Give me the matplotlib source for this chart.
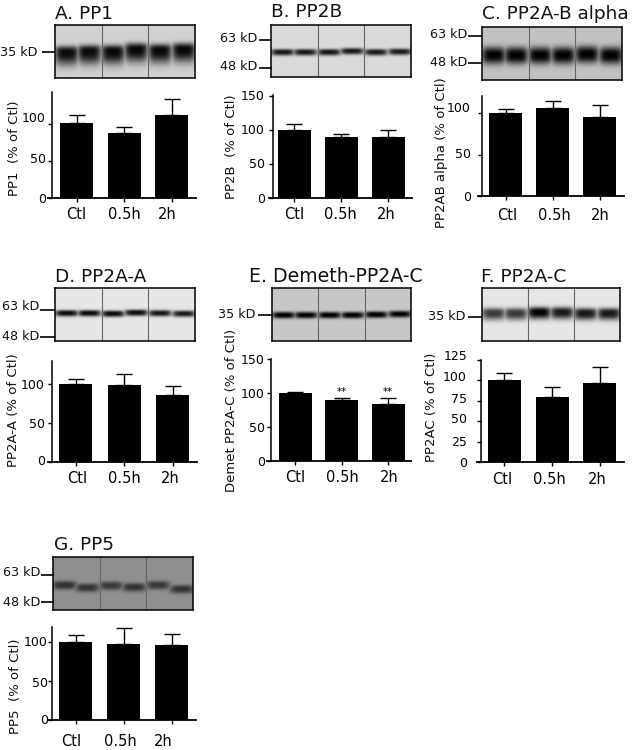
import numpy as np
import matplotlib
matplotlib.use('Agg')
import matplotlib.pyplot as plt
from matplotlib.transforms import ScaledTranslation

plt.rcParams['font.family'] = ['DejaVu Sans']

W, H = 634, 750
PX = 0.72  # points in one pixel at dpi 100

# values
groups = ['Ctl', '0.5h', '2h']

pp1_mean = [101, 88, 112]
pp1_top = [112, 96, 134]
pp2b_mean = [100, 89, 89]
pp2b_top = [109, 93, 100]
pp2ab_mean = [100, 106, 95]
pp2ab_top = [105, 115, 110]
pp2aa_mean = [100, 99, 86]
pp2aa_top = [106, 113, 98]
demeth_mean = [100, 90, 84]
demeth_top = [102, 93, 93]
pp2ac_mean = [100, 80, 97]
pp2ac_top = [109, 92, 116]
pp5_mean = [100, 98, 96]
pp5_top = [109, 118, 110]

# band height of each of the six lanes in the blots, px from blot top
pp1_lanes = [27, 26, 26, 24, 25, 24]
pp2b_lanes = [27, 27, 27, 26, 27, 26.5]
pp2ab_lanes = [28, 28, 28, 28, 27, 28]
pp2aa_lanes = [25, 25, 25.5, 24.5, 25, 25.5]
demeth_lanes = [27, 27, 27, 27, 26.5, 26]
pp2ac_lanes = [25, 25, 24, 24, 25, 25]
pp5_lanes = [28, 30.5, 28.5, 30, 28, 32]

pp1_dark = [.95, .95, .97, .97, .97, .97]
pp2b_dark = [.9, .9, .9, .88, .88, .88]
pp2ab_dark = [1, 1, 1, 1, 1, 1]
pp2aa_dark = [.95, .95, .95, .95, .9, .88]
demeth_dark = [1, 1, 1, 1, 1, 1]
pp2ac_dark = [.75, .75, 1, .9, .9, .9]
pp5_dark = [.65, .65, .6, .65, .6, .65]

panels = [
    dict(title='A. PP1', tx=55, ty=19, mean=pp1_mean, top=pp1_top, lanes=pp1_lanes, dark=pp1_dark,
         blot=(55, 25, 195, 78), bg=.82, sig=6, tail=13,
         sx=52, ax_r=196, y0=198, ytop=92, scale=.74, c0=76.5, step=47.5,
         yt=[0, 50, 100], yt_dy=[0, 3, 7], yt_right=46, xpad=5, xdx=[0, 0, -4],
         ylabel='PP1  (% of Ctl)', lx=15, ly=148,
         kd=[('35 kD', 38, 52, 42, 55, 52)]),
    dict(title='B. PP2B', tx=271, ty=17, mean=pp2b_mean, top=pp2b_top, lanes=pp2b_lanes, dark=pp2b_dark,
         blot=(271, 25, 411, 77), bg=.85, sig=3, tail=3.5,
         sx=273, ax_r=412, y0=198, ytop=95, scale=.683, c0=294, step=47,
         yt=[0, 50, 100, 150], yt_dy=[0, 1, 1, 1], yt_right=265, xpad=5, xdx=[0, -1, -2],
         ylabel='PP2B  (% of Ctl)', lx=232, ly=147,
         kd=[('63 kD', 257, 38, 259, 272, 40), ('48 kD', 257, 67, 259, 272, 68)]),
    dict(title='C. PP2A-B alpha', tx=482, ty=19, mean=pp2ab_mean, top=pp2ab_top, lanes=pp2ab_lanes, dark=pp2ab_dark,
         blot=(482, 27, 622, 80), bg=.76, sig=8, tail=9,
         sx=482, ax_r=624, y0=196, ytop=96, scale=.83, c0=505.5, step=47,
         yt=[0, 50, 100], yt_dy=[0, 1, 6], yt_right=471, xpad=8, xdx=[2, 2, 1],
         ylabel='PP2AB alpha (% of Ctl)', lx=441, ly=153,
         kd=[('63 kD', 467, 35, 468, 482, 36), ('48 kD', 467, 63, 468, 482, 63)]),
    dict(title='D. PP2A-A', tx=55, ty=282, mean=pp2aa_mean, top=pp2aa_top, lanes=pp2aa_lanes, dark=pp2aa_dark,
         blot=(55, 288, 195, 341), bg=.9, sig=3, tail=3.5,
         sx=52, ax_r=197, y0=462, ytop=361, scale=.78, c0=75.5, step=48.5,
         yt=[0, 50, 100], yt_dy=[2, 0, 0], yt_right=45, xpad=5, xdx=[2, 0, -2],
         ylabel='PP2A-A (% of Ctl)', lx=14, ly=410,
         kd=[('63 kD', 39, 307, 40, 55, 310), ('48 kD', 39, 336, 40, 55, 337)]),
    dict(title='E. Demeth-PP2A-C', tx=249, ty=282, mean=demeth_mean, top=demeth_top, lanes=demeth_lanes, dark=demeth_dark,
         blot=(272, 288, 411, 341), bg=.78, sig=3.2, tail=3.5,
         sx=271, ax_r=411, y0=461, ytop=359, scale=.68, c0=295, step=46.5,
         yt=[0, 50, 100, 150], yt_dy=[0, 0, 0, 0], yt_right=265, xpad=5, xdx=[0, 1, 1],
         ylabel='Demet PP2A-C (% of Ctl)', lx=232, ly=410,
         kd=[('35 kD', 255, 315, 258, 272, 315)], stars=True),
    dict(title='F. PP2A-C', tx=481, ty=282, mean=pp2ac_mean, top=pp2ac_top, lanes=pp2ac_lanes, dark=pp2ac_dark,
         blot=(482, 288, 620, 341), bg=.9, sig=5, tail=7,
         sx=481, ax_r=624, y0=462, ytop=360, scale=.82, c0=504.5, step=47.5,
         yt=[0, 25, 50, 75, 100, 125], yt_dy=[0, 1, 3, 3, 4, 5], yt_right=467, xpad=6, xdx=[-2, -3, -2],
         ylabel='PP2AC (% of Ctl)', lx=432, ly=407,
         kd=[('35 kD', 465, 317, 468, 482, 317)]),
    dict(title='G. PP5', tx=54, ty=550, mean=pp5_mean, top=pp5_top, lanes=pp5_lanes, dark=pp5_dark,
         blot=(53, 557, 193, 610), bg=.56, sig=4, tail=4.5,
         sx=52, ax_r=196, y0=720, ytop=627, scale=.78, c0=75.5, step=48,
         yt=[0, 50, 100], yt_dy=[1, -1, 1], yt_right=48, xpad=10, xdx=[-4, -3, -8],
         ylabel='PP5  (% of Ctl)', lx=16, ly=686,
         kd=[('63 kD', 40, 573, 41, 54, 575), ('48 kD', 40, 602, 41, 54, 602)]),
]

lane_x = [.085, .245, .415, .58, .75, .92]


def px_axes(fig, x0, y0, x1, y1, **kw):
    # axes from pixel box, y counted from the top
    return fig.add_axes([x0 / W, 1 - y1 / H, (x1 - x0) / W, (y1 - y0) / H], **kw)


def draw_blot(fig, p):
    x0, y0, x1, y1 = p['blot']
    w, h = x1 - x0, y1 - y0
    xx, yy = np.meshgrid(np.arange(w) + .5, np.arange(h) + .5)
    absorb = np.zeros((h, w))
    for f, yc, d in zip(lane_x, p['lanes'], p['dark']):
        xprof = np.exp(-np.abs((xx - f * w) / 12.0) ** 4)
        dy = yy - yc
        sig = np.where(dy < 0, p['sig'], p['tail'])
        absorb = np.maximum(absorb, d * xprof * np.exp(-np.abs(dy / sig) ** 2.5))
    ax = px_axes(fig, x0, y0, x1, y1)
    ax.imshow(p['bg'] * (1 - absorb), cmap='gray', vmin=0, vmax=1, aspect='auto', interpolation='bilinear')
    ax.set_xticks([])
    ax.set_yticks([])
    for f in (1 / 3, 2 / 3):
        ax.axvline(f * w - .5, color='#666666', lw=.8)
    for s in ax.spines.values():
        s.set_linewidth(1.1)


def draw_bars(fig, p):
    ax = px_axes(fig, p['sx'], p['ytop'], p['ax_r'], p['y0'])
    ax.patch.set_alpha(0)
    x = np.arange(3)
    ax.set_xlim((p['sx'] - p['c0']) / p['step'], (p['ax_r'] - p['c0']) / p['step'])
    ax.set_ylim(0, (p['y0'] - p['ytop']) / p['scale'])
    ax.bar(x, p['mean'], width=33 / p['step'], color='black')
    tops = np.array(p['top']) - np.array(p['mean'])
    ax.errorbar(x, p['mean'], yerr=[np.zeros(3), tops], fmt='none', ecolor='black',
                elinewidth=1.0, capsize=6, capthick=1.0)
    ax.spines['top'].set_visible(False)
    ax.spines['right'].set_visible(False)
    ax.spines['left'].set_linewidth(1.1)
    ax.spines['bottom'].set_linewidth(1.3)
    ax.spines['bottom'].set_bounds(ax.get_xlim()[0] - 4 / p['step'], ax.get_xlim()[1])
    ax.spines['bottom'].set_clip_on(False)
    tl = 4 * PX
    ax.set_yticks(p['yt'], [str(v) for v in p['yt']], fontsize=9)
    ax.tick_params(axis='y', length=tl, width=1.0, pad=(p['sx'] - p['yt_right'] - 4) * PX)
    ax.set_xticks(x, groups, fontsize=10.5)
    ax.tick_params(axis='x', length=tl, width=1.0, pad=p['xpad'] * PX)
    for lab, dy in zip(ax.get_yticklabels(), p['yt_dy']):
        lab.set_transform(lab.get_transform() + ScaledTranslation(0, dy / 100, fig.dpi_scale_trans))
    for lab, dx in zip(ax.get_xticklabels(), p['xdx']):
        lab.set_transform(lab.get_transform() + ScaledTranslation(dx / 100, 0, fig.dpi_scale_trans))
    return ax


fig = plt.figure(figsize=(W / 100, H / 100), dpi=100)

for p in panels:
    draw_blot(fig, p)
    draw_bars(fig, p)

# titles, marker sizes and axis names share one pixel-sized layer
over = fig.add_axes([0, 0, 1, 1], zorder=10)
over.set_xlim(0, W)
over.set_ylim(H, 0)
over.axis('off')
for p in panels:
    size = 13.6 if p['title'].startswith('E') else 13.3
    over.text(p['tx'], p['ty'], p['title'], fontsize=size, va='baseline', ha='left', color='#111111')
    over.text(p['lx'], p['ly'], p['ylabel'], fontsize=9.5, rotation=90, ha='center', va='center', color='#111111')
    for txt, right, ty, lx0, lx1, ly in p['kd']:
        over.text(right, ty, txt, fontsize=9.2, ha='right', va='center', color='#111111')
        over.plot([lx0, lx1], [ly, ly], color='black', lw=1.2, solid_capstyle='butt')
    if p.get('stars'):
        for i in (1, 2):
            over.text(p['c0'] + i * p['step'], 392, '**', fontsize=7.5, ha='center', va='center')

fig.savefig('out.png', dpi=100)
